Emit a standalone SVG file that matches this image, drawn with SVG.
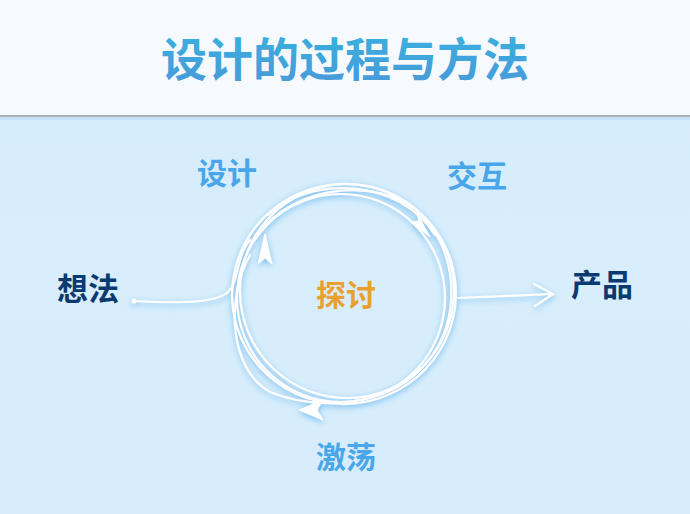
<svg xmlns="http://www.w3.org/2000/svg" width="690" height="514" viewBox="0 0 690 514">
<defs>
<linearGradient id="bg" x1="0" y1="0" x2="0" y2="1">
<stop offset="0" stop-color="#d3ebfb"/>
<stop offset="0.5" stop-color="#d8eefc"/>
<stop offset="1" stop-color="#d6ecfb"/>
</linearGradient>
<linearGradient id="tg" x1="0" y1="0" x2="0" y2="1">
<stop offset="0" stop-color="#36b4e0"/>
<stop offset="1" stop-color="#4a98d8"/>
</linearGradient>
<filter id="glow" x="-20%" y="-20%" width="140%" height="140%">
<feDropShadow dx="0" dy="2" stdDeviation="3" flood-color="#74bcf0" flood-opacity="1"/>
</filter>
</defs>
<style>
.ln{fill:none;stroke:#ffffff;stroke-width:2.2;stroke-linecap:round}
.ah{fill:#ffffff;stroke:#ffffff;stroke-width:1;stroke-linejoin:round}
.lbl{font-family:"Noto Sans CJK SC","Noto Sans CJK JP",sans-serif;font-weight:bold;text-anchor:middle}
.blue{fill:#4aa6ea;font-size:30px}
.dark{fill:#0b3a70;font-size:31px}
</style>
<rect x="0" y="0" width="690" height="514" fill="url(#bg)"/>
<rect x="0" y="0" width="690" height="116" fill="#f6fafe"/>
<rect x="0" y="115" width="690" height="2" fill="#a9b1b8"/>
<rect x="0" y="117" width="690" height="3" fill="#c6e2f6"/>
<g id="title"><text x="345" y="76" class="lbl" font-size="46" fill="url(#tg)">设计的过程与方法</text></g>
<g id="connectors" filter="url(#glow)">
<ellipse class="ln" cx="344" cy="294" rx="112" ry="110" transform="rotate(-8 344 294)"/>
<ellipse class="ln" cx="347" cy="291" rx="107" ry="107" transform="rotate(10 347 291)"/>
<ellipse class="ln" cx="341" cy="298" rx="104" ry="104"/>
<path class="ln" d="M258 235 C290 185 390 170 430 225 C460 265 460 330 420 370 C385 405 320 412 270 392 C230 370 225 300 250 255"/>
<path class="ln" d="M268 215 C310 175 400 178 435 235"/>
<path class="ln" d="M133 301 C175 303 215 304 228 292 C240 280 236 255 250 240"/>
<circle cx="134" cy="301" r="2.5" fill="#ffffff"/>
<path class="ln" d="M458 298 L552 294"/>
<path class="ln" stroke-width="2.6" d="M534 284 L553 294 L535 306"/>
<path class="ah" d="M265 234 L272 264 L265 258 L258 264 Z"/>
<path class="ah" d="M430 237 L411 222 L419 221 L417 213 Z"/>
<path class="ah" d="M299 410 L323 400 L317 410 L323 420 Z"/>
</g>
<g id="n-sheji"><text x="227" y="184" class="lbl blue">设计</text></g>
<g id="n-jiaohu"><text x="477" y="187" class="lbl blue">交互</text></g>
<g id="n-xiangfa"><text x="88" y="300" class="lbl dark">想法</text></g>
<g id="n-tantao"><text x="346" y="306" class="lbl" font-size="30" fill="#e9a02e">探讨</text></g>
<g id="n-chanpin"><text x="602" y="296" class="lbl dark">产品</text></g>
<g id="n-jidang"><text x="346" y="468" class="lbl blue">激荡</text></g>
</svg>
